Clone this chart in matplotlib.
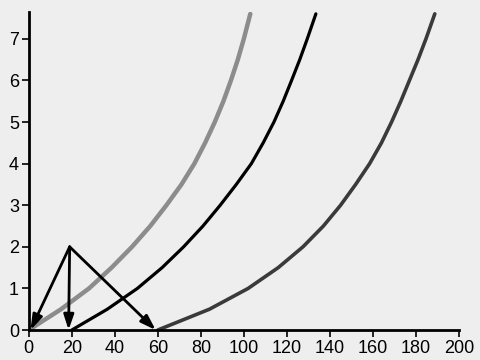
import matplotlib
matplotlib.use("Agg")
import matplotlib.pyplot as plt

# 読み取った曲線データ（y を揃え、x を読み取り）
curve_y = [0, 0.5, 1, 1.5, 2, 2.5, 3, 3.5, 4, 4.5, 5, 5.5, 6, 6.5, 7, 7.6]
grey_x = [0, 15, 28, 38.5, 48, 56.5, 64, 71, 77, 82, 86.5, 90.5, 94, 97.2, 100, 103]
black_x = [20, 36.5, 50.5, 62, 72, 81, 89, 96.5, 103.5, 109, 114, 118.3, 122.2, 126, 129.5, 133.5]
dark_x = [60, 84, 102, 116, 127.5, 137, 145, 152, 158.5, 164, 168.7, 173, 177, 181, 184.7, 188.8]

# 矢印: 起点と x 軸上の終点
arrow_from = (19, 2)
arrow_to_x = [0.8, 18.5, 59]

x_ticks = list(range(0, 201, 20))
y_ticks = list(range(0, 8))

plt.rcParams["font.family"] = ["Liberation Sans", "DejaVu Sans"]

fig = plt.figure(figsize=(4.8, 3.6), dpi=100)
fig.patch.set_facecolor("#eeeeee")
ax = fig.add_axes([0.06, 0.0833, 0.896, 0.884])
ax.set_facecolor("#eeeeee")

ax.plot(grey_x, curve_y, color="#8c8c8c", lw=3.2, solid_capstyle="round", solid_joinstyle="round")
ax.plot(black_x, curve_y, color="#000000", lw=2.3, solid_capstyle="round", solid_joinstyle="round")
ax.plot(dark_x, curve_y, color="#3a3a3a", lw=2.6, solid_capstyle="round", solid_joinstyle="round")

for tx in arrow_to_x:
    ax.annotate("", xy=(tx, 0), xytext=arrow_from,
                arrowprops=dict(arrowstyle="-|>,head_length=0.9,head_width=0.3",
                                color="black", lw=2.0, shrinkA=0, shrinkB=0))

ax.set_xlim(0, 200)
ax.set_ylim(0, 7.65)
ax.set_xticks(x_ticks)
ax.set_yticks(y_ticks)
for s in ("top", "right"):
    ax.spines[s].set_visible(False)
for s in ("left", "bottom"):
    ax.spines[s].set_linewidth(2.0)
    ax.spines[s].set_color("black")
ax.tick_params(length=5, width=1.2, labelsize=13, pad=2, colors="black")

fig.savefig("out.png", dpi=100, facecolor=fig.get_facecolor())
